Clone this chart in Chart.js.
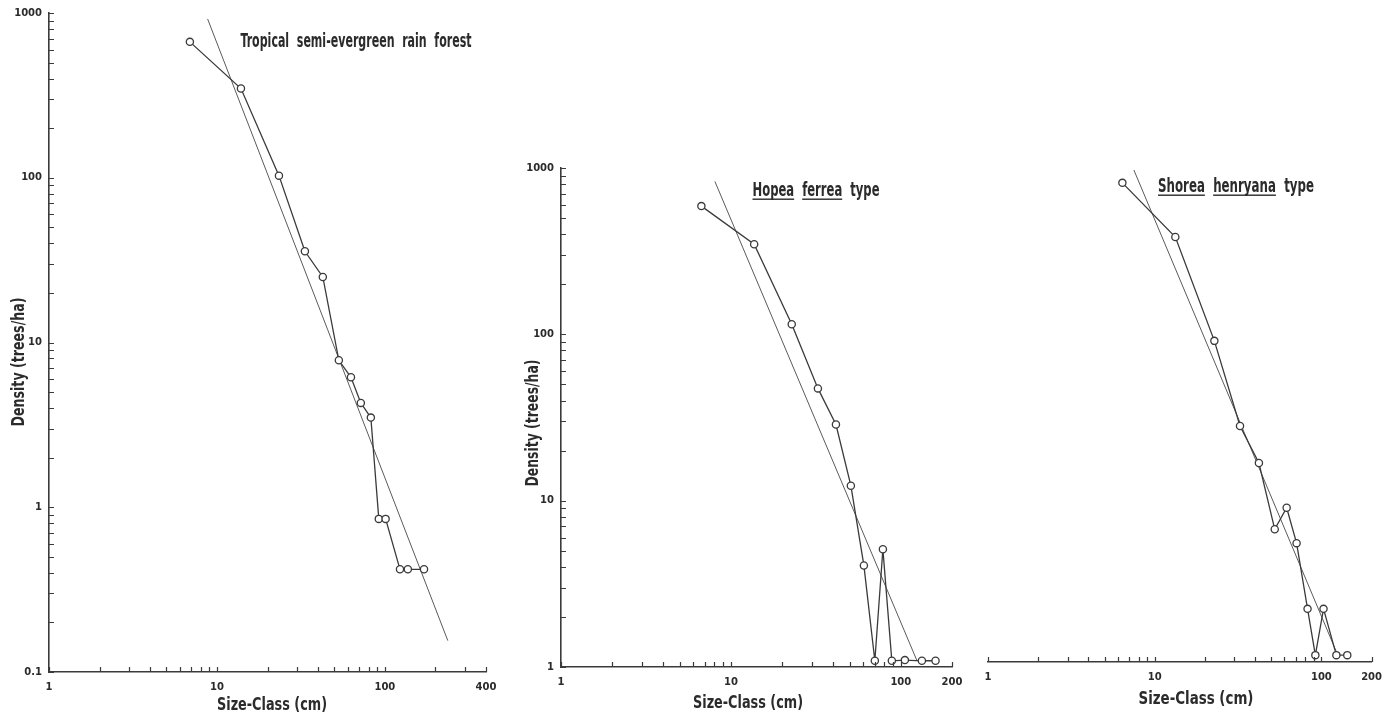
<!DOCTYPE html>
<html>
<head>
<meta charset="utf-8">
<script src="https://cdn.jsdelivr.net/npm/chart.js@4.4.1/dist/chart.umd.min.js"></script>
<style>
  body { margin: 0; background: #fff; }
  .wrap { position: relative; width: 1391px; height: 718px; }
  canvas { position: absolute; left: 0; top: 0; }
</style>
</head>
<body>
<div class="wrap">
  <canvas id="tropical" width="1391" height="718"></canvas>
  <canvas id="hopea" width="1391" height="718"></canvas>
  <canvas id="shorea" width="1391" height="718"></canvas>
</div>
<script>
// values (size class in cm, density in trees/ha)
const tropicalSize = [6.9, 13.9, 23.4, 33.4, 42.7, 53.2, 62.8, 71.9, 82.5, 92, 101, 123, 137, 171];
const tropicalDensity = [668, 348, 103, 35.8, 25, 7.8, 6.15, 4.3, 3.5, 0.85, 0.85, 0.42, 0.42, 0.42];
const tropicalFitSize = [8.8, 237];
const tropicalFitDensity = [920, 0.155];

const hopeaSize = [6.7, 13.7, 22.8, 32.5, 41.5, 50.8, 60.6, 70.3, 78.4, 88.5, 105.6, 133, 160];
const hopeaDensity = [590, 348, 115, 47.3, 28.7, 12.3, 4.08, 1.09, 5.1, 1.09, 1.1, 1.09, 1.09];
const hopeaFitSize = [8.05, 124];
const hopeaFitDensity = [830, 1.1];

const shoreaSize = [6.4, 13.3, 22.8, 32.5, 42.2, 52.5, 61.9, 71, 82.6, 92, 103, 123, 143];
const shoreaDensity = [770, 363, 86, 26.4, 15.8, 6.3, 8.5, 5.2, 2.09, 1.1, 2.09, 1.1, 1.1];
const shoreaFitSize = [7.5, 124];
const shoreaFitDensity = [920, 1.13];

const xTicksTropical = [1, 10, 100, 400];
const xTicksOther = [1, 10, 100, 200];
const yTicksTropical = [0.1, 1, 10, 100, 1000];
const yTicksOther = [1, 10, 100, 1000];

const INK = '#2b2b2b';
const LINE = '#3a3a3a';
const FIT = '#5a5a5a';
const TITLE_FONT = '"Liberation Sans Narrow", "DejaVu Sans Condensed", "Liberation Sans", sans-serif';
const TICK_FONT = { family: '"DejaVu Sans", sans-serif', size: 10, weight: 'bold' };

function pts(xs, ys) {
    return xs.map((x, i) => ({ x: x, y: ys[i] }));
}

function logSteps(min, max) {
    const out = [];
    for (let e = Math.floor(Math.log10(min)); e <= Math.ceil(Math.log10(max)); e++) {
        for (let m = 1; m <= 9; m++) {
            const v = Number((m * Math.pow(10, e)).toPrecision(6));
            if (v >= min * 0.999 && v <= max * 1.001) out.push(v);
        }
    }
    return out;
}

// short ticks drawn inside the axes, like the original figure
const innerTicks = {
    id: 'innerTicks',
    afterDraw(chart) {
        const ctx = chart.ctx;
        const area = chart.chartArea;
        ctx.save();
        ctx.strokeStyle = LINE;
        ctx.lineWidth = 1.2;
        ctx.beginPath();
        const x = chart.scales.x;
        logSteps(x.min, x.max).forEach(v => {
            const p = Math.round(x.getPixelForValue(v)) + 0.5;
            ctx.moveTo(p, area.bottom);
            ctx.lineTo(p, area.bottom - 5);
        });
        const y = chart.scales.y;
        if (y.options.display) {
            logSteps(y.min, y.max).forEach(v => {
                const p = Math.round(y.getPixelForValue(v)) + 0.5;
                ctx.moveTo(area.left, p);
                ctx.lineTo(area.left + 5, p);
            });
        }
        ctx.stroke();
        ctx.restore();
    }
};

function drawLabel(ctx, lab) {
    ctx.save();
    ctx.font = 'bold ' + lab.size + 'px ' + TITLE_FONT;
    ctx.fillStyle = INK;
    const gap = lab.gap || ' ';
    const text = lab.parts.map(p => p[0]).join(gap);
    const natural = ctx.measureText(text).width;
    ctx.translate(lab.x, lab.y);
    if (lab.rot) ctx.rotate(-Math.PI / 2);
    ctx.scale(lab.width / natural, 1);
    ctx.textAlign = 'left';
    ctx.textBaseline = 'alphabetic';
    ctx.fillText(text, -natural / 2, 0);
    let pos = -natural / 2;
    const gapW = ctx.measureText(gap).width;
    lab.parts.forEach(p => {
        const w = ctx.measureText(p[0]).width;
        if (p[1]) ctx.fillRect(pos, 2.5, w, 1.4);
        pos += w + gapW;
    });
    ctx.restore();
}

function textPlugin(labels) {
    return {
        id: 'panelText',
        afterDraw(chart) {
            labels.forEach(l => drawLabel(chart.ctx, l));
        }
    };
}

function makeChart(id, c) {
    return new Chart(document.getElementById(id), {
        type: 'scatter',
        data: {
            datasets: [{
                data: pts(c.sizes, c.density),
                showLine: true,
                borderColor: LINE,
                borderWidth: 1.3,
                pointRadius: 3.6,
                pointBackgroundColor: '#fff',
                pointBorderColor: LINE,
                pointBorderWidth: 1.3
            }, {
                data: pts(c.fitSizes, c.fitDensity),
                showLine: true,
                borderColor: FIT,
                borderWidth: 1,
                pointRadius: 0
            }]
        },
        options: {
            responsive: false,
            animation: false,
            devicePixelRatio: 1,
            layout: { padding: c.pad },
            plugins: { legend: { display: false }, tooltip: { enabled: false } },
            scales: {
                x: {
                    type: 'logarithmic',
                    min: c.xTicks[0],
                    max: c.xTicks[c.xTicks.length - 1],
                    afterBuildTicks: s => { s.ticks = c.xTicks.map(v => ({ value: v })); },
                    afterFit: s => { s.height = c.xHeight; },
                    grid: { display: false, drawTicks: false },
                    border: { display: true, color: LINE, width: 1.6 },
                    ticks: { font: TICK_FONT, color: INK, padding: 9, autoSkip: false, maxRotation: 0, callback: v => String(v) }
                },
                y: {
                    type: 'logarithmic',
                    display: c.showY,
                    min: c.yTicks[0],
                    max: c.yTicks[c.yTicks.length - 1],
                    afterBuildTicks: s => { s.ticks = c.yTicks.map(v => ({ value: v })); },
                    afterFit: s => { if (c.showY) s.width = c.yWidth; },
                    grid: { display: false, drawTicks: false },
                    border: { display: true, color: LINE, width: 1.6 },
                    ticks: { font: TICK_FONT, color: INK, padding: 7, autoSkip: false, callback: v => String(v) }
                }
            }
        },
        plugins: [innerTicks, textPlugin(c.labels)]
    });
}

makeChart('tropical', {
    sizes: tropicalSize, density: tropicalDensity,
    fitSizes: tropicalFitSize, fitDensity: tropicalFitDensity,
    xTicks: xTicksTropical, yTicks: yTicksTropical,
    showY: true, yWidth: 49, xHeight: 46,
    pad: { left: 0, top: 13, right: 905, bottom: 0 },
    labels: [
        { parts: [['Tropical', 0], ['semi-evergreen', 0], ['rain', 0], ['forest', 0]], gap: '  ', x: 356, y: 47, width: 231, size: 19 },
        { parts: [['Size-Class', 0], ['(cm)', 0]], x: 272, y: 710, width: 110, size: 18 },
        { parts: [['Density', 0], ['(trees/ha)', 0]], x: 24, y: 362, width: 129, size: 17, rot: true }
    ]
});

makeChart('hopea', {
    sizes: hopeaSize, density: hopeaDensity,
    fitSizes: hopeaFitSize, fitDensity: hopeaFitDensity,
    xTicks: xTicksOther, yTicks: yTicksOther,
    showY: true, yWidth: 61, xHeight: 51,
    pad: { left: 500, top: 168, right: 439, bottom: 0 },
    labels: [
        { parts: [['Hopea', 1], ['ferrea', 1], ['type', 0]], gap: '  ', x: 816, y: 196, width: 127, size: 19 },
        { parts: [['Size-Class', 0], ['(cm)', 0]], x: 748, y: 708, width: 110, size: 18 },
        { parts: [['Density', 0], ['(trees/ha)', 0]], x: 538, y: 423, width: 127, size: 17, rot: true }
    ]
});

makeChart('shorea', {
    sizes: shoreaSize, density: shoreaDensity,
    fitSizes: shoreaFitSize, fitDensity: shoreaFitDensity,
    xTicks: xTicksOther, yTicks: yTicksOther,
    showY: false, yWidth: 0, xHeight: 56,
    pad: { left: 988, top: 164, right: 15, bottom: 0 },
    labels: [
        { parts: [['Shorea', 1], ['henryana', 1], ['type', 0]], gap: '  ', x: 1236, y: 192, width: 156, size: 19 },
        { parts: [['Size-Class', 0], ['(cm)', 0]], x: 1196, y: 704, width: 115, size: 18 }
    ]
});
</script>
</body>
</html>
